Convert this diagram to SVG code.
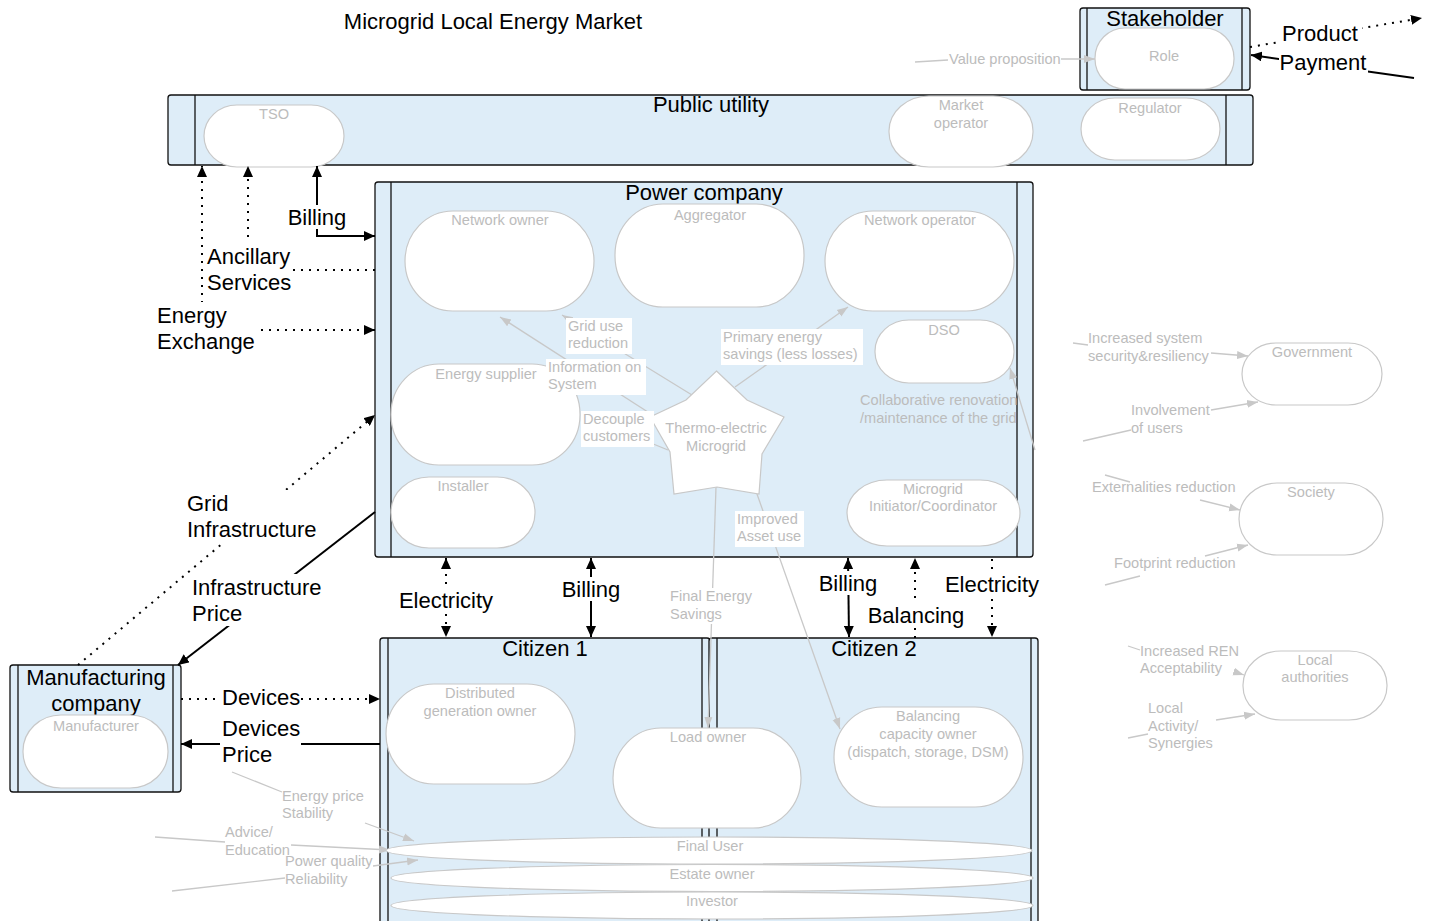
<svg xmlns="http://www.w3.org/2000/svg" width="1432" height="921" viewBox="0 0 1432 921">
  <style>
    .pool { fill: #deedf8; stroke: #111; stroke-width: 1.3; }
    .lane { stroke: #111; stroke-width: 1.3; fill: none; }
    .role { fill: #ffffff; stroke: #c8c8c8; stroke-width: 1.2; }
    .t { font-family: "Liberation Sans", Arial, sans-serif; font-size: 22px; fill: #000; }
    .g { font-family: "Liberation Sans", Arial, sans-serif; font-size: 14.6px; fill: #bcbcbc; }
    .c { text-anchor: middle; }
    .solid { stroke: #000; stroke-width: 2; fill: none; }
    .dot { stroke: #000; stroke-width: 2; fill: none; stroke-dasharray: 2 6; }
    .gl { stroke: #c8c8c8; stroke-width: 1.3; fill: none; }
    .bg { fill: #ffffff; }
  </style>
  <defs>
    <marker id="ah" markerUnits="userSpaceOnUse" markerWidth="12" markerHeight="10" refX="11" refY="5" orient="auto-start-reverse">
      <path d="M0,0 L11,5 L0,10 z" fill="#000"/>
    </marker>
    <marker id="gh" markerUnits="userSpaceOnUse" markerWidth="12" markerHeight="10" refX="11" refY="5" orient="auto-start-reverse">
      <path d="M0,1 L11,5 L0,9 z" fill="#c8c8c8"/>
    </marker>
  </defs>

  <rect width="1432" height="921" fill="#ffffff"/>

  <text class="t c" x="493" y="29">Microgrid Local Energy Market</text>

  <!-- Legend: stakeholder / role -->
  <g id="legend">
    <rect class="pool" x="1080" y="8" width="170" height="82" rx="3"/>
    <line class="lane" x1="1087" y1="8" x2="1087" y2="90"/>
    <line class="lane" x1="1242" y1="8" x2="1242" y2="90"/>
    <text class="t c" x="1165" y="26">Stakeholder</text>
    <rect class="role" x="1095" y="28" width="139" height="61" rx="30" ry="30"/>
    <text class="g c" x="1164" y="61">Role</text>
  </g>

  <!-- Public utility -->
  <g id="public-utility">
    <rect class="pool" x="168" y="95" width="1085" height="70" rx="3"/>
    <line class="lane" x1="195" y1="95" x2="195" y2="165"/>
    <line class="lane" x1="1226" y1="95" x2="1226" y2="165"/>
    <text class="t c" x="711" y="112">Public utility</text>
  </g>
  <g id="tso">
    <rect class="role" x="204" y="105" width="140" height="62" rx="33" ry="31"/>
    <text class="g c" x="274" y="119">TSO</text>
  </g>
  <g id="market-operator">
    <rect class="role" x="889" y="96" width="144" height="71" rx="40" ry="35"/>
    <text class="g c" x="961" y="110">Market</text>
    <text class="g c" x="961" y="128">operator</text>
  </g>
  <g id="regulator">
    <rect class="role" x="1081" y="98" width="139" height="62" rx="34" ry="31"/>
    <text class="g c" x="1150" y="113">Regulator</text>
  </g>

  <!-- Power company -->
  <g id="power-company">
    <rect class="pool" x="375" y="182" width="658" height="375" rx="3"/>
    <line class="lane" x1="391" y1="182" x2="391" y2="557"/>
    <line class="lane" x1="1017" y1="182" x2="1017" y2="557"/>
    <text class="t c" x="704" y="200">Power company</text>
  </g>
  <g id="network-owner">
    <rect class="role" x="405" y="211" width="189" height="100" rx="48" ry="50"/>
    <text class="g c" x="500" y="225">Network owner</text>
  </g>
  <g id="aggregator">
    <rect class="role" x="615" y="204" width="189" height="103" rx="48" ry="51"/>
    <text class="g c" x="710" y="220">Aggregator</text>
  </g>
  <g id="network-operator">
    <rect class="role" x="825" y="211" width="189" height="100" rx="48" ry="50"/>
    <text class="g c" x="920" y="225">Network operator</text>
  </g>
  <g id="dso">
    <rect class="role" x="875" y="320" width="139" height="63" rx="34" ry="31"/>
    <text class="g c" x="944" y="335">DSO</text>
  </g>
  <g id="energy-supplier">
    <rect class="role" x="391" y="364" width="189" height="101" rx="48" ry="50"/>
    <text class="g c" x="486" y="379">Energy supplier</text>
  </g>
  <g id="installer">
    <rect class="role" x="391" y="477" width="144" height="71" rx="38" ry="35"/>
    <text class="g c" x="463" y="491">Installer</text>
  </g>
  <g id="microgrid-coordinator">
    <rect class="role" x="847" y="480" width="173" height="66" rx="40" ry="33"/>
    <text class="g c" x="933" y="494">Microgrid</text>
    <text class="g c" x="933" y="511">Initiator/Coordinator</text>
  </g>

  <!-- Citizens -->
  <g id="citizen-1">
    <rect class="pool" x="380" y="638" width="330" height="300" rx="3"/>
    <line class="lane" x1="388" y1="638" x2="388" y2="938"/>
    <line class="lane" x1="702" y1="638" x2="702" y2="938"/>
    <text class="t c" x="545" y="656">Citizen 1</text>
  </g>
  <g id="citizen-2">
    <rect class="pool" x="709" y="638" width="329" height="300" rx="3"/>
    <line class="lane" x1="717" y1="638" x2="717" y2="938"/>
    <line class="lane" x1="1031" y1="638" x2="1031" y2="938"/>
    <text class="t c" x="874" y="656">Citizen 2</text>
  </g>
  <g id="distributed-generation-owner">
    <rect class="role" x="386" y="684" width="189" height="100" rx="48" ry="50"/>
    <text class="g c" x="480" y="698">Distributed</text>
    <text class="g c" x="480" y="716">generation owner</text>
  </g>
  <g id="balancing-capacity-owner">
    <rect class="role" x="834" y="707" width="189" height="100" rx="48" ry="50"/>
    <text class="g c" x="928" y="721">Balancing</text>
    <text class="g c" x="928" y="739">capacity owner</text>
    <text class="g c" x="928" y="757">(dispatch, storage, DSM)</text>
  </g>

  <!-- Manufacturing company -->
  <g id="manufacturing-company">
    <rect class="pool" x="10" y="665" width="171" height="127" rx="3"/>
    <line class="lane" x1="18" y1="665" x2="18" y2="792"/>
    <line class="lane" x1="173" y1="665" x2="173" y2="792"/>
    <text class="t c" x="96" y="685">Manufacturing</text>
    <text class="t c" x="96" y="711">company</text>
    <rect class="role" x="23" y="715" width="145" height="73" rx="38" ry="36"/>
    <text class="g c" x="96" y="731">Manufacturer</text>
  </g>

  <!-- Stakeholder groups outside the market -->
  <g id="government">
    <rect class="role" x="1242" y="343" width="140" height="62" rx="34" ry="31"/>
    <text class="g c" x="1312" y="357">Government</text>
  </g>
  <g id="society">
    <rect class="role" x="1239" y="483" width="144" height="72" rx="38" ry="36"/>
    <text class="g c" x="1311" y="497">Society</text>
  </g>
  <g id="local-authorities">
    <rect class="role" x="1243" y="651" width="144" height="69" rx="38" ry="34"/>
    <text class="g c" x="1315" y="665">Local</text>
    <text class="g c" x="1315" y="682">authorities</text>
  </g>

  <!-- Connectors -->
  <g id="connectors">
    <!-- value flows (grey) -->
    <polyline class="gl" points="915,62 948,60"/>
    <line class="gl" x1="1061" y1="59" x2="1095" y2="59" marker-end="url(#gh)"/>

    <line class="gl" x1="692" y1="395" x2="562" y2="315" marker-end="url(#gh)"/>
    <line class="gl" x1="651" y1="414" x2="500" y2="317" marker-end="url(#gh)"/>
    <line class="gl" x1="668" y1="450" x2="582" y2="415" marker-end="url(#gh)"/>
    <line class="gl" x1="735" y1="387" x2="848" y2="307" marker-end="url(#gh)"/>
    <line class="gl" x1="1035" y1="450" x2="1010" y2="368" marker-end="url(#gh)"/>
    <line class="gl" x1="757" y1="494" x2="840" y2="729" marker-end="url(#gh)"/>
    <line class="gl" x1="716" y1="487" x2="708" y2="728" marker-end="url(#gh)"/>

    <line class="gl" x1="1073" y1="343" x2="1088" y2="345"/>
    <line class="gl" x1="1211" y1="353" x2="1248" y2="356" marker-end="url(#gh)"/>
    <line class="gl" x1="1083" y1="441" x2="1131" y2="430"/>
    <line class="gl" x1="1211" y1="410" x2="1258" y2="402" marker-end="url(#gh)"/>
    <line class="gl" x1="1105" y1="475" x2="1130" y2="482"/>
    <line class="gl" x1="1200" y1="500" x2="1240" y2="510" marker-end="url(#gh)"/>
    <line class="gl" x1="1105" y1="585" x2="1140" y2="576"/>
    <line class="gl" x1="1205" y1="556" x2="1248" y2="545" marker-end="url(#gh)"/>
    <line class="gl" x1="1128" y1="646" x2="1140" y2="650"/>
    <line class="gl" x1="1241" y1="674" x2="1244" y2="675" marker-end="url(#gh)"/>
    <line class="gl" x1="1128" y1="738" x2="1148" y2="734"/>
    <line class="gl" x1="1216" y1="720" x2="1255" y2="714" marker-end="url(#gh)"/>

    <line class="gl" x1="232" y1="772" x2="282" y2="792"/>
    <line class="gl" x1="365" y1="823" x2="414" y2="841" marker-end="url(#gh)"/>
    <line class="gl" x1="155" y1="837" x2="225" y2="842"/>
    <line class="gl" x1="291" y1="845" x2="390" y2="850" marker-end="url(#gh)"/>
    <line class="gl" x1="172" y1="891" x2="285" y2="878"/>
    <line class="gl" x1="373" y1="866" x2="418" y2="860" marker-end="url(#gh)"/>

    <!-- goods, services and money (black) -->
    <line class="dot" x1="1250" y1="47" x2="1422" y2="18" marker-end="url(#ah)"/>
    <line class="solid" x1="1414" y1="78" x2="1251" y2="55" marker-end="url(#ah)"/>

    <polyline class="dot" points="375,330 202,330 202,166" marker-start="url(#ah)" marker-end="url(#ah)"/>
    <polyline class="dot" points="375,270 248,270 248,166" marker-end="url(#ah)"/>
    <polyline class="solid" points="375,236 317,236 317,166" marker-start="url(#ah)" marker-end="url(#ah)"/>

    <line class="dot" x1="78" y1="665" x2="375" y2="415" marker-end="url(#ah)"/>
    <line class="solid" x1="375" y1="512" x2="178" y2="665" marker-end="url(#ah)"/>
    <line class="dot" x1="181" y1="699" x2="380" y2="699" marker-end="url(#ah)"/>
    <line class="solid" x1="380" y1="744" x2="181" y2="744" marker-end="url(#ah)"/>

    <line class="dot" x1="446" y1="558" x2="446" y2="637" marker-start="url(#ah)" marker-end="url(#ah)"/>
    <line class="solid" x1="591" y1="558" x2="591" y2="637" marker-start="url(#ah)" marker-end="url(#ah)"/>
    <line class="solid" x1="848" y1="558" x2="849" y2="637" marker-start="url(#ah)" marker-end="url(#ah)"/>
    <line class="dot" x1="915" y1="638" x2="915" y2="558" marker-end="url(#ah)"/>
    <line class="dot" x1="992" y1="559" x2="992" y2="637" marker-end="url(#ah)"/>
  </g>

  <!-- Thermo-electric microgrid -->
  <g id="thermo-electric-microgrid">
    <polygon class="role" points="716.5,371 747,400 784,417 762,454 759,494 717,487 674,494 670,452 650,417 686,400"/>
    <text class="g c" x="716" y="433">Thermo-electric</text>
    <text class="g c" x="716" y="451">Microgrid</text>
  </g>

  <g id="load-owner">
    <rect class="role" x="613" y="728" width="188" height="100" rx="48" ry="50"/>
    <text class="g c" x="708" y="742">Load owner</text>
  </g>
  <g id="final-user">
    <ellipse class="role" cx="709" cy="850.5" rx="323" ry="13.5"/>
    <text class="g c" x="710" y="851">Final User</text>
  </g>
  <g id="estate-owner">
    <ellipse class="role" cx="712" cy="878" rx="321" ry="13.5"/>
    <text class="g c" x="712" y="879">Estate owner</text>
  </g>
  <g id="investor">
    <ellipse class="role" cx="712" cy="905.5" rx="321" ry="13.5"/>
    <text class="g c" x="712" y="906">Investor</text>
  </g>

  <!-- Connector labels -->
  <g id="labels">
    <text class="g" x="949" y="64">Value proposition</text>

    <rect class="bg" x="566" y="318" width="66" height="36"/>
    <text class="g" x="568" y="331">Grid use</text>
    <text class="g" x="568" y="348">reduction</text>
    <rect class="bg" x="546" y="359" width="100" height="36"/>
    <text class="g" x="548" y="372">Information on</text>
    <text class="g" x="548" y="389">System</text>
    <rect class="bg" x="581" y="411" width="73" height="36"/>
    <text class="g" x="583" y="424">Decouple</text>
    <text class="g" x="583" y="441">customers</text>
    <rect class="bg" x="721" y="329" width="142" height="36"/>
    <text class="g" x="723" y="342">Primary energy</text>
    <text class="g" x="723" y="359">savings (less losses)</text>
    <text class="g" x="860" y="405">Collaborative renovation</text>
    <text class="g" x="860" y="423">/maintenance of the grid</text>
    <rect class="bg" x="735" y="511" width="69" height="36"/>
    <text class="g" x="737" y="524">Improved</text>
    <text class="g" x="737" y="541">Asset use</text>
    <rect class="bg" x="668" y="588" width="88" height="36"/>
    <text class="g" x="670" y="601">Final Energy</text>
    <text class="g" x="670" y="619">Savings</text>

    <text class="g" x="1088" y="343">Increased system</text>
    <text class="g" x="1088" y="361">security&amp;resiliency</text>
    <text class="g" x="1131" y="415">Involvement</text>
    <text class="g" x="1131" y="433">of users</text>
    <text class="g" x="1092" y="492">Externalities reduction</text>
    <text class="g" x="1114" y="568">Footprint reduction</text>
    <text class="g" x="1140" y="656">Increased REN</text>
    <text class="g" x="1140" y="673">Acceptability</text>
    <text class="g" x="1148" y="713">Local</text>
    <text class="g" x="1148" y="731">Activity/</text>
    <text class="g" x="1148" y="748">Synergies</text>

    <text class="g" x="282" y="801">Energy price</text>
    <text class="g" x="282" y="818">Stability</text>
    <text class="g" x="225" y="837">Advice/</text>
    <text class="g" x="225" y="855">Education</text>
    <text class="g" x="285" y="866">Power quality</text>
    <text class="g" x="285" y="884">Reliability</text>

    <rect class="bg" x="1280" y="22" width="82" height="24"/>
    <text class="t c" x="1320" y="41">Product</text>
    <rect class="bg" x="1279" y="52" width="89" height="24"/>
    <text class="t c" x="1323" y="70">Payment</text>

    <rect class="bg" x="286" y="205" width="62" height="24"/>
    <text class="t c" x="317" y="225">Billing</text>
    <rect class="bg" x="205" y="243" width="88" height="52"/>
    <text class="t" x="207" y="264">Ancillary</text>
    <text class="t" x="207" y="290">Services</text>
    <rect class="bg" x="155" y="302" width="102" height="52"/>
    <text class="t" x="157" y="323">Energy</text>
    <text class="t" x="157" y="349">Exchange</text>

    <rect class="bg" x="185" y="490" width="134" height="52"/>
    <text class="t" x="187" y="511">Grid</text>
    <text class="t" x="187" y="537">Infrastructure</text>
    <rect class="bg" x="190" y="574" width="134" height="52"/>
    <text class="t" x="192" y="595">Infrastructure</text>
    <text class="t" x="192" y="621">Price</text>
    <rect class="bg" x="220" y="686" width="81" height="24"/>
    <text class="t" x="222" y="705">Devices</text>
    <rect class="bg" x="220" y="716" width="81" height="52"/>
    <text class="t" x="222" y="736">Devices</text>
    <text class="t" x="222" y="762">Price</text>

    <rect class="bg" x="398" y="588" width="96" height="24"/>
    <text class="t c" x="446" y="608">Electricity</text>
    <rect class="bg" x="561" y="577" width="61" height="24"/>
    <text class="t c" x="591" y="597">Billing</text>
    <rect class="bg" x="818" y="571" width="61" height="24"/>
    <text class="t c" x="848" y="591">Billing</text>
    <rect class="bg" x="866" y="603" width="100" height="24"/>
    <text class="t c" x="916" y="623">Balancing</text>
    <rect class="bg" x="944" y="572" width="96" height="24"/>
    <text class="t c" x="992" y="592">Electricity</text>
  </g>
</svg>
